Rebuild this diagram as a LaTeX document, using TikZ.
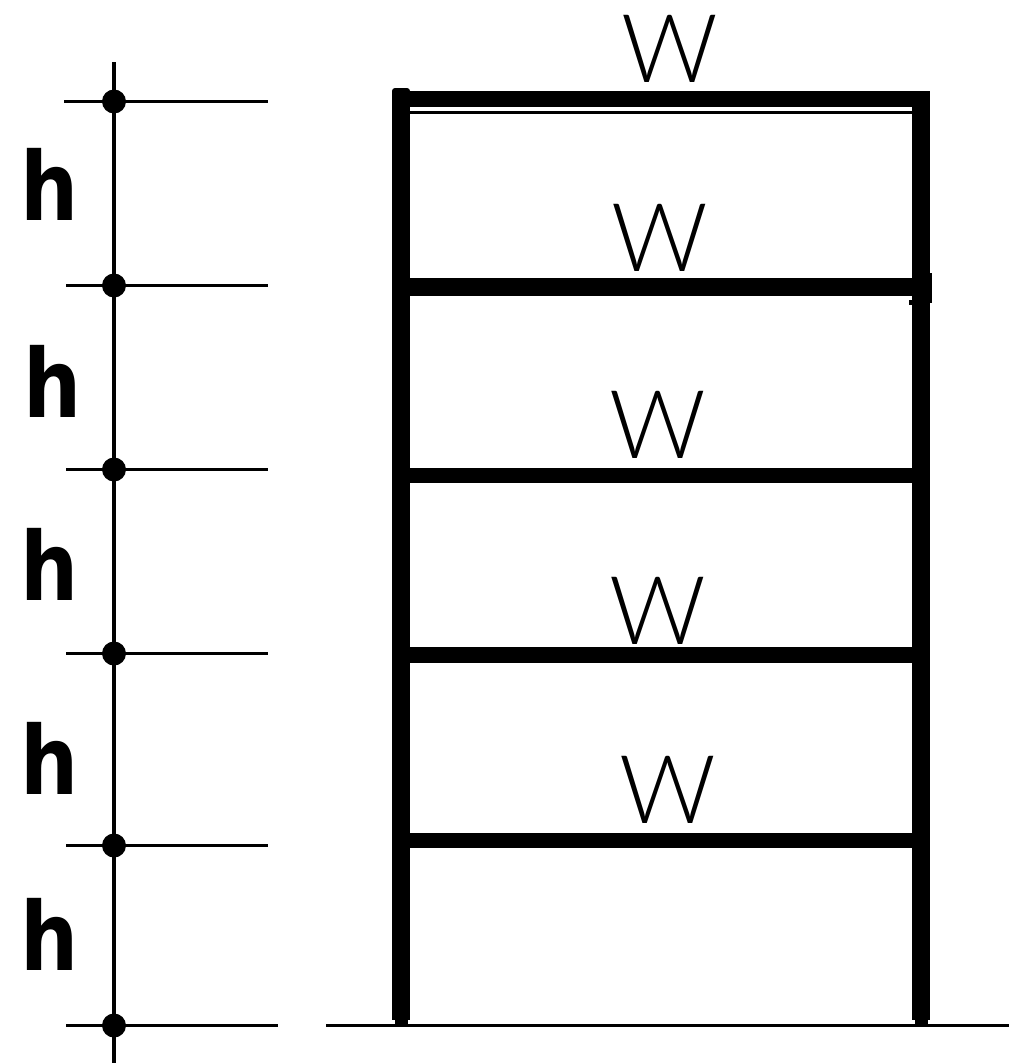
\documentclass[tikz,border=0pt]{standalone}
\usepackage{fontspec}
\setmainfont{Liberation Sans}
\newfontfamily\hfont{DejaVu Sans}[BoldFont=* Bold,BoldFeatures={FakeStretch=0.86}]
\newfontfamily\wfont{Lato}[UprightFont=* Light]
\tikzset{
 frame/.style={line width=18pt},
 foot/.style={line width=13pt},
 beam/.style={line width=15.5pt},
 topbeam/.style={line width=16pt},
 dim/.style={line width=3.5pt},
 dotn/.style={circle,fill=black,inner sep=0pt,minimum size=24pt},
 hlab/.style={font=\hfont\fontsize{95}{95}\selectfont\bfseries,inner sep=0pt},
 wlab/.style={font=\wfont\fontsize{95}{95}\selectfont,inner sep=0pt,text=black},
}
\begin{document}
\begin{tikzpicture}[x=1pt,y=-1pt]
\useasboundingbox (0,0) rectangle (1009,1063);
\coordinate (dtop) at (114,62);
\coordinate (dbot) at (114,1063);
\draw[dim] (dtop) -- (dbot);
\foreach \n/\y/\xa/\xb in {a/101.5/64/268,b/285.5/66/268,c/469.5/66/268,d/653.5/66/268,e/845.5/66/268,f/1025.5/66/278}{
  \node[dotn] (\n) at (114,\y) {};
  \coordinate (\n l) at (\xa,\y);
  \coordinate (\n r) at (\xb,\y);
  \draw[dim] (\n l) -- (\n r);
}
\foreach \n/\x/\y in {ha/49.5/184,hb/53/381.5,hc/49.5/564.5,hd/49.5/758,he/49.5/934.5}{
  \node[hlab] (\n) at (\x,\y) {h};
}
\coordinate (gl) at (326,1025.5);
\coordinate (gr) at (1009,1025.5);
\draw[dim] (gl) -- (gr);
% columns
\coordinate (tl) at (401,91);
\coordinate (bl) at (401,1020);
\coordinate (tr) at (921,91);
\coordinate (br) at (921,1020);
\coordinate (fl) at (401,1025);
\coordinate (fr) at (921,1025);
\draw[frame] (tl) -- (bl);
\fill[rounded corners=3pt] (392,100) -- (392,88) -- (410,88) -- (410,100) -- cycle;
\draw[frame] (tr) -- (br);
\draw[foot] (bl) -- (fl);
\draw[foot] (br) -- (fr);
% beams
\coordinate (bal) at (401,99);
\coordinate (bar) at (921,99);
\draw[topbeam] (bal) -- (bar);
\coordinate (bbl) at (401,286.5);
\coordinate (bbr) at (921,286.5);
\draw[beam,line width=18pt] (bbl) -- (bbr);
\foreach \n/\y in {bc/475.5,bd/655,be/840.5}{
  \coordinate (\n l) at (401,\y);
  \coordinate (\n r) at (921,\y);
  \draw[beam] (\n l) -- (\n r);
}
\coordinate (thinl) at (410,112);
\coordinate (thinr) at (912,112);
\draw[line width=3pt] (thinl) -- (thinr);
\fill (912,273) rectangle (932,303);
\fill (909,300) rectangle (912,305);
\foreach \n/\x/\y in {wa/669.5/49,wb/660/238,wc/658/425,wd/658/611,we/667.5/790}{
  \node[wlab] (\n) at (\x,\y) {W};
}
\end{tikzpicture}
\end{document}
